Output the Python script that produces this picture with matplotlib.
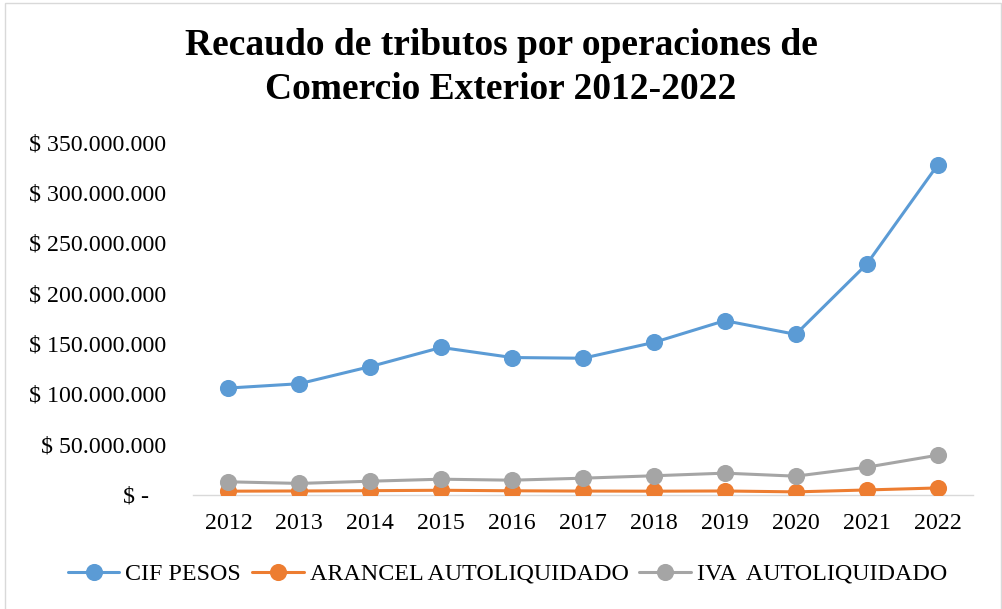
#!/usr/bin/env python3

import numpy as np
from matplotlib import pyplot as plt
from matplotlib.patches import Rectangle
from matplotlib.ticker import FuncFormatter

years = ['2012', '2013', '2014', '2015', '2016', '2017',
         '2018', '2019', '2020', '2021', '2022']
cif_pesos = [105.7, 110.0, 127.0, 146.0, 136.0, 135.3,
             151.0, 172.6, 159.0, 228.6, 327.0]
arancel = [3.3, 3.5, 3.8, 4.2, 3.7, 3.4, 3.3, 3.5, 2.6, 4.5, 6.5]
iva = [12.6, 11.0, 13.2, 15.2, 14.2, 16.2, 18.6, 21.2, 18.2, 27.1, 39.0]
series_names = ['CIF PESOS', 'ARANCEL AUTOLIQUIDADO', 'IVA  AUTOLIQUIDADO']
colors = ['#5B9BD5', '#ED7D31', '#A5A5A5']
title_lines = ['Recaudo de tributos por operaciones de',
               'Comercio Exterior 2012-2022']


def money(value, pos):
    """Excel accounting style: $ 350.000.000, and $ - for zero."""
    if value == 0:
        return '$ -   '
    return '$ ' + '{:,.0f}'.format(value).replace(',', '.')


def main():
    plt.rcParams['font.family'] = ['Liberation Serif', 'DejaVu Serif']

    fig = plt.figure(figsize=(10.02, 6.09), dpi=100)
    ax = fig.add_axes([193 / 1002, 1 - 494.5 / 609,
                       780 / 1002, 352.5 / 609])

    x = np.arange(len(years))
    for values, name, color in zip([cif_pesos, arancel, iva],
                                   series_names, colors):
        ax.plot(x, np.array(values) * 1e6, color=color, lw=2.2,
                marker='o', markersize=11.3, label=name,
                solid_capstyle='round')

    ax.set_xlim(-0.5, len(years) - 0.5)
    ax.set_ylim(0, 350e6)
    ax.set_yticks(np.arange(0, 351e6, 50e6))
    ax.yaxis.set_major_formatter(FuncFormatter(money))
    ax.set_xticks(x)
    ax.set_xticklabels(years)
    ax.tick_params(axis='y', length=0, pad=19, labelsize=17.2)
    ax.tick_params(axis='x', length=0, pad=13, labelsize=17.2)

    for side in ['top', 'right', 'left']:
        ax.spines[side].set_visible(False)
    ax.spines['bottom'].set_color('#D9D9D9')
    ax.spines['bottom'].set_linewidth(1.0)
    ax.spines['bottom'].set_zorder(0)

    # two title lines placed on their own baselines
    for line, base in zip(title_lines, [55, 99]):
        fig.text(0.5, 1 - base / 609, line, ha='center', va='baseline',
                 fontsize=27, fontweight='bold')

    fig.legend(loc='center', bbox_to_anchor=(507.5 / 1002, 1 - 574 / 609),
               ncol=3, frameon=False, fontsize=17.3, handlelength=2.15,
               handletextpad=0.25, columnspacing=0.45)

    fig.patches.append(Rectangle((5 / 1002, -0.01), 996 / 1002,
                                 1 - 3 / 609 + 0.01,
                                 transform=fig.transFigure, fill=False,
                                 edgecolor='#D9D9D9', lw=1.0))

    fig.savefig('out.png', dpi=100)


if __name__ == '__main__':
    main()
